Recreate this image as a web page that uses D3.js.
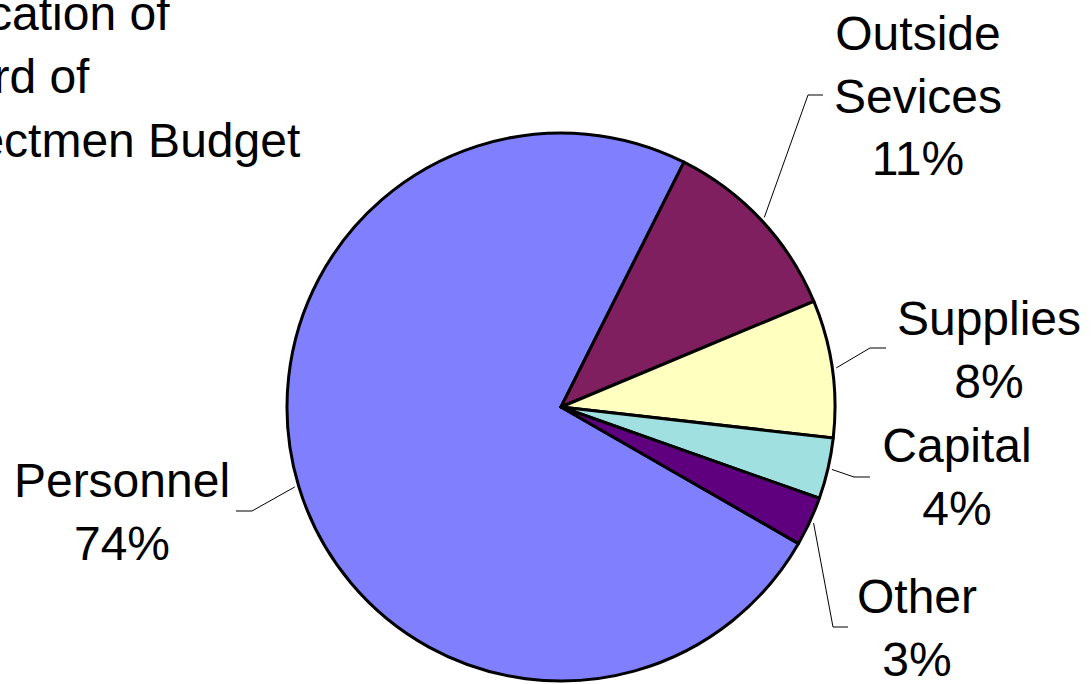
<!DOCTYPE html>
<html>
<head>
<meta charset="utf-8">
<script src="https://cdn.jsdelivr.net/npm/d3@7"></script>
<style>
  html, body { margin: 0; padding: 0; background: #fff; }
  svg { display: block; }
  text { font-family: "Liberation Sans", Arial, sans-serif; fill: #000; }
</style>
</head>
<body>
<svg id="chart" width="1092" height="684"></svg>
<script>
// ---- data ----
const titleLines = ["Allocation of", "Board of", "Selectmen Budget"];
const categories = ["Personnel", "Outside Sevices", "Supplies", "Capital", "Other"];
const shares = [74.1, 11.3, 8.1, 3.6, 2.9];
const colors = ["#8080FF", "#7F1F5F", "#FFFFC0", "#A0E0E0", "#5F007F"];

// ---- layout (label placement, not data) ----
const labelLayout = [
  { lines: ["Personnel"], x: 122, y: 497, elbow: [252, 511], end: 236 },
  { lines: ["Outside", "Sevices"], x: 918, y: 50, elbow: [808, 95], end: 823 },
  { lines: ["Supplies"], x: 989, y: 335, elbow: [870, 348], end: 886 },
  { lines: ["Capital"], x: 957, y: 462, elbow: [854, 477], end: 870 },
  { lines: ["Other"], x: 917, y: 613, elbow: [833, 627], end: 848 }
];

const W = 1092, H = 684;
const cx = 561, cy = 407, R = 274;
const fontSize = 48, lineH = 62.5;

const svg = d3.select("#chart");

// title
const title = svg.append("text")
  .attr("x", -92).attr("y", 30)
  .attr("font-size", fontSize);
titleLines.forEach((t, i) => {
  title.append("tspan").attr("x", -92).attr("y", 30 + i * 63.3).text(t);
});

const total = d3.sum(shares);
const data = categories.map((c, i) => ({ name: c, value: shares[i], color: colors[i], layout: labelLayout[i] }));

const pie = d3.pie()
  .sort(null)
  .value(d => d.value)
  .startAngle(119.9 * Math.PI / 180)
  .endAngle(119.9 * Math.PI / 180 + 2 * Math.PI);

const arcs = pie(data);
const arc = d3.arc().innerRadius(0).outerRadius(R);
const leaderArc = d3.arc().innerRadius(278).outerRadius(278);

const g = svg.append("g").attr("transform", `translate(${cx},${cy})`);

g.selectAll("path.slice")
  .data(arcs)
  .join("path")
  .attr("class", "slice")
  .attr("d", arc)
  .attr("fill", d => d.data.color)
  .attr("stroke", "#000")
  .attr("stroke-width", 3)
  .attr("stroke-linejoin", "round");

const fmt = d3.format(".0%");

// leaders
arcs.forEach(a => {
  const L = a.data.layout;
  const p = leaderArc.centroid(a);
  const start = [cx + p[0], cy + p[1]];
  svg.append("path")
    .attr("d", d3.line()([start, L.elbow, [L.end, L.elbow[1]]]))
    .attr("fill", "none")
    .attr("stroke", "#000")
    .attr("stroke-width", 1);

  const t = svg.append("text")
    .attr("text-anchor", "middle")
    .attr("font-size", fontSize);
  const lines = L.lines.concat([fmt(a.data.value / total)]);
  lines.forEach((s, i) => {
    t.append("tspan").attr("x", L.x).attr("y", L.y + i * lineH).text(s);
  });
});
</script>
</body>
</html>
